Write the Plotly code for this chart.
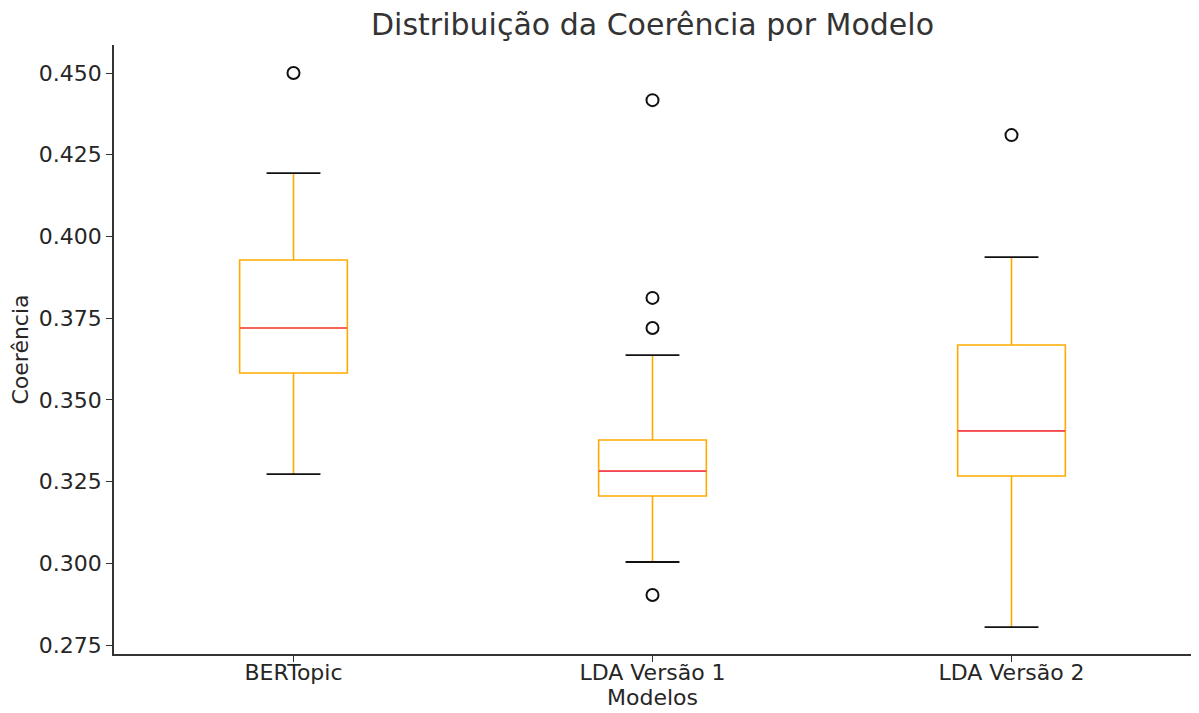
import plotly.graph_objects as go

modelos = ["BERTopic", "LDA Versão 1", "LDA Versão 2"]
q1 = [0.3582, 0.3206, 0.3267]
mediana = [0.3720, 0.3282, 0.3405]
q3 = [0.3928, 0.3377, 0.3668]
limite_inf = [0.3273, 0.3004, 0.2805]
limite_sup = [0.4194, 0.3637, 0.3937]
outliers = [[0.4500], [0.4417, 0.3812, 0.3720, 0.2903], [0.4310]]
y_ticks = [0.275, 0.300, 0.325, 0.350, 0.375, 0.400, 0.425, 0.450]

pos = list(range(len(modelos)))
box_w = 0.3
cap_w = 0.15
font = "DejaVu Sans"

fig = go.Figure()
fig.add_trace(go.Box(
    x=pos, q1=q1, median=mediana, q3=q3,
    lowerfence=limite_inf, upperfence=limite_sup,
    width=box_w, whiskerwidth=0,
    fillcolor="rgba(255,255,255,0)",
    line=dict(color="#FFAA00", width=1.6),
    boxpoints=False, showlegend=False, hoverinfo="skip",
))

# median lines (red) and whisker caps (black)
for i in pos:
    fig.add_trace(go.Scatter(
        x=[i - box_w / 2, i + box_w / 2], y=[mediana[i], mediana[i]],
        mode="lines", line=dict(color="#F2445F", width=1.6),
        showlegend=False, hoverinfo="skip"))
    for v in (limite_inf[i], limite_sup[i]):
        fig.add_trace(go.Scatter(
            x=[i - cap_w / 2, i + cap_w / 2], y=[v, v],
            mode="lines", line=dict(color="#111111", width=1.8),
            showlegend=False, hoverinfo="skip"))

ox, oy = [], []
for i, vals in enumerate(outliers):
    ox += [i] * len(vals)
    oy += vals
fig.add_trace(go.Scatter(
    x=ox, y=oy, mode="markers",
    marker=dict(symbol="circle-open", size=12, color="#111111", line=dict(width=2)),
    showlegend=False))

fig.update_layout(
    width=1183, height=713,
    paper_bgcolor="white", plot_bgcolor="white",
    margin=dict(l=106, r=0, t=37, b=67),
    font=dict(family=font, color="#262626", size=22),
    title=dict(text="Distribuição da Coerência por Modelo", x=0.5, xanchor="center",
               xref="paper", y=1 - 16 / 713, yanchor="middle",
               font=dict(size=30, color="#333333", family=font)),
)
fig.update_xaxes(
    range=[-0.5, 2.5], tickmode="array", tickvals=pos, ticktext=modelos,
    showline=True, linecolor="#333333", linewidth=1.5, mirror=False,
    ticks="outside", ticklen=6, tickcolor="#333333", tickwidth=1.2,
    ticklabelstandoff=-8,
    showgrid=False, zeroline=False,
    title=dict(text="Modelos", standoff=3, font=dict(size=22)),
    tickfont=dict(size=22),
)
fig.update_yaxes(
    range=[0.27225, 0.45857], tickmode="array", tickvals=y_ticks,
    ticktext=[f"{t:.3f}" for t in y_ticks],
    showline=True, linecolor="#333333", linewidth=1.5, mirror=False,
    ticks="outside", ticklen=6, tickcolor="#333333", tickwidth=1.2,
    showgrid=False, zeroline=False,
    title=dict(text="Coerência", standoff=7, font=dict(size=22)),
    tickfont=dict(size=22),
)

fig.write_html("out.html")
